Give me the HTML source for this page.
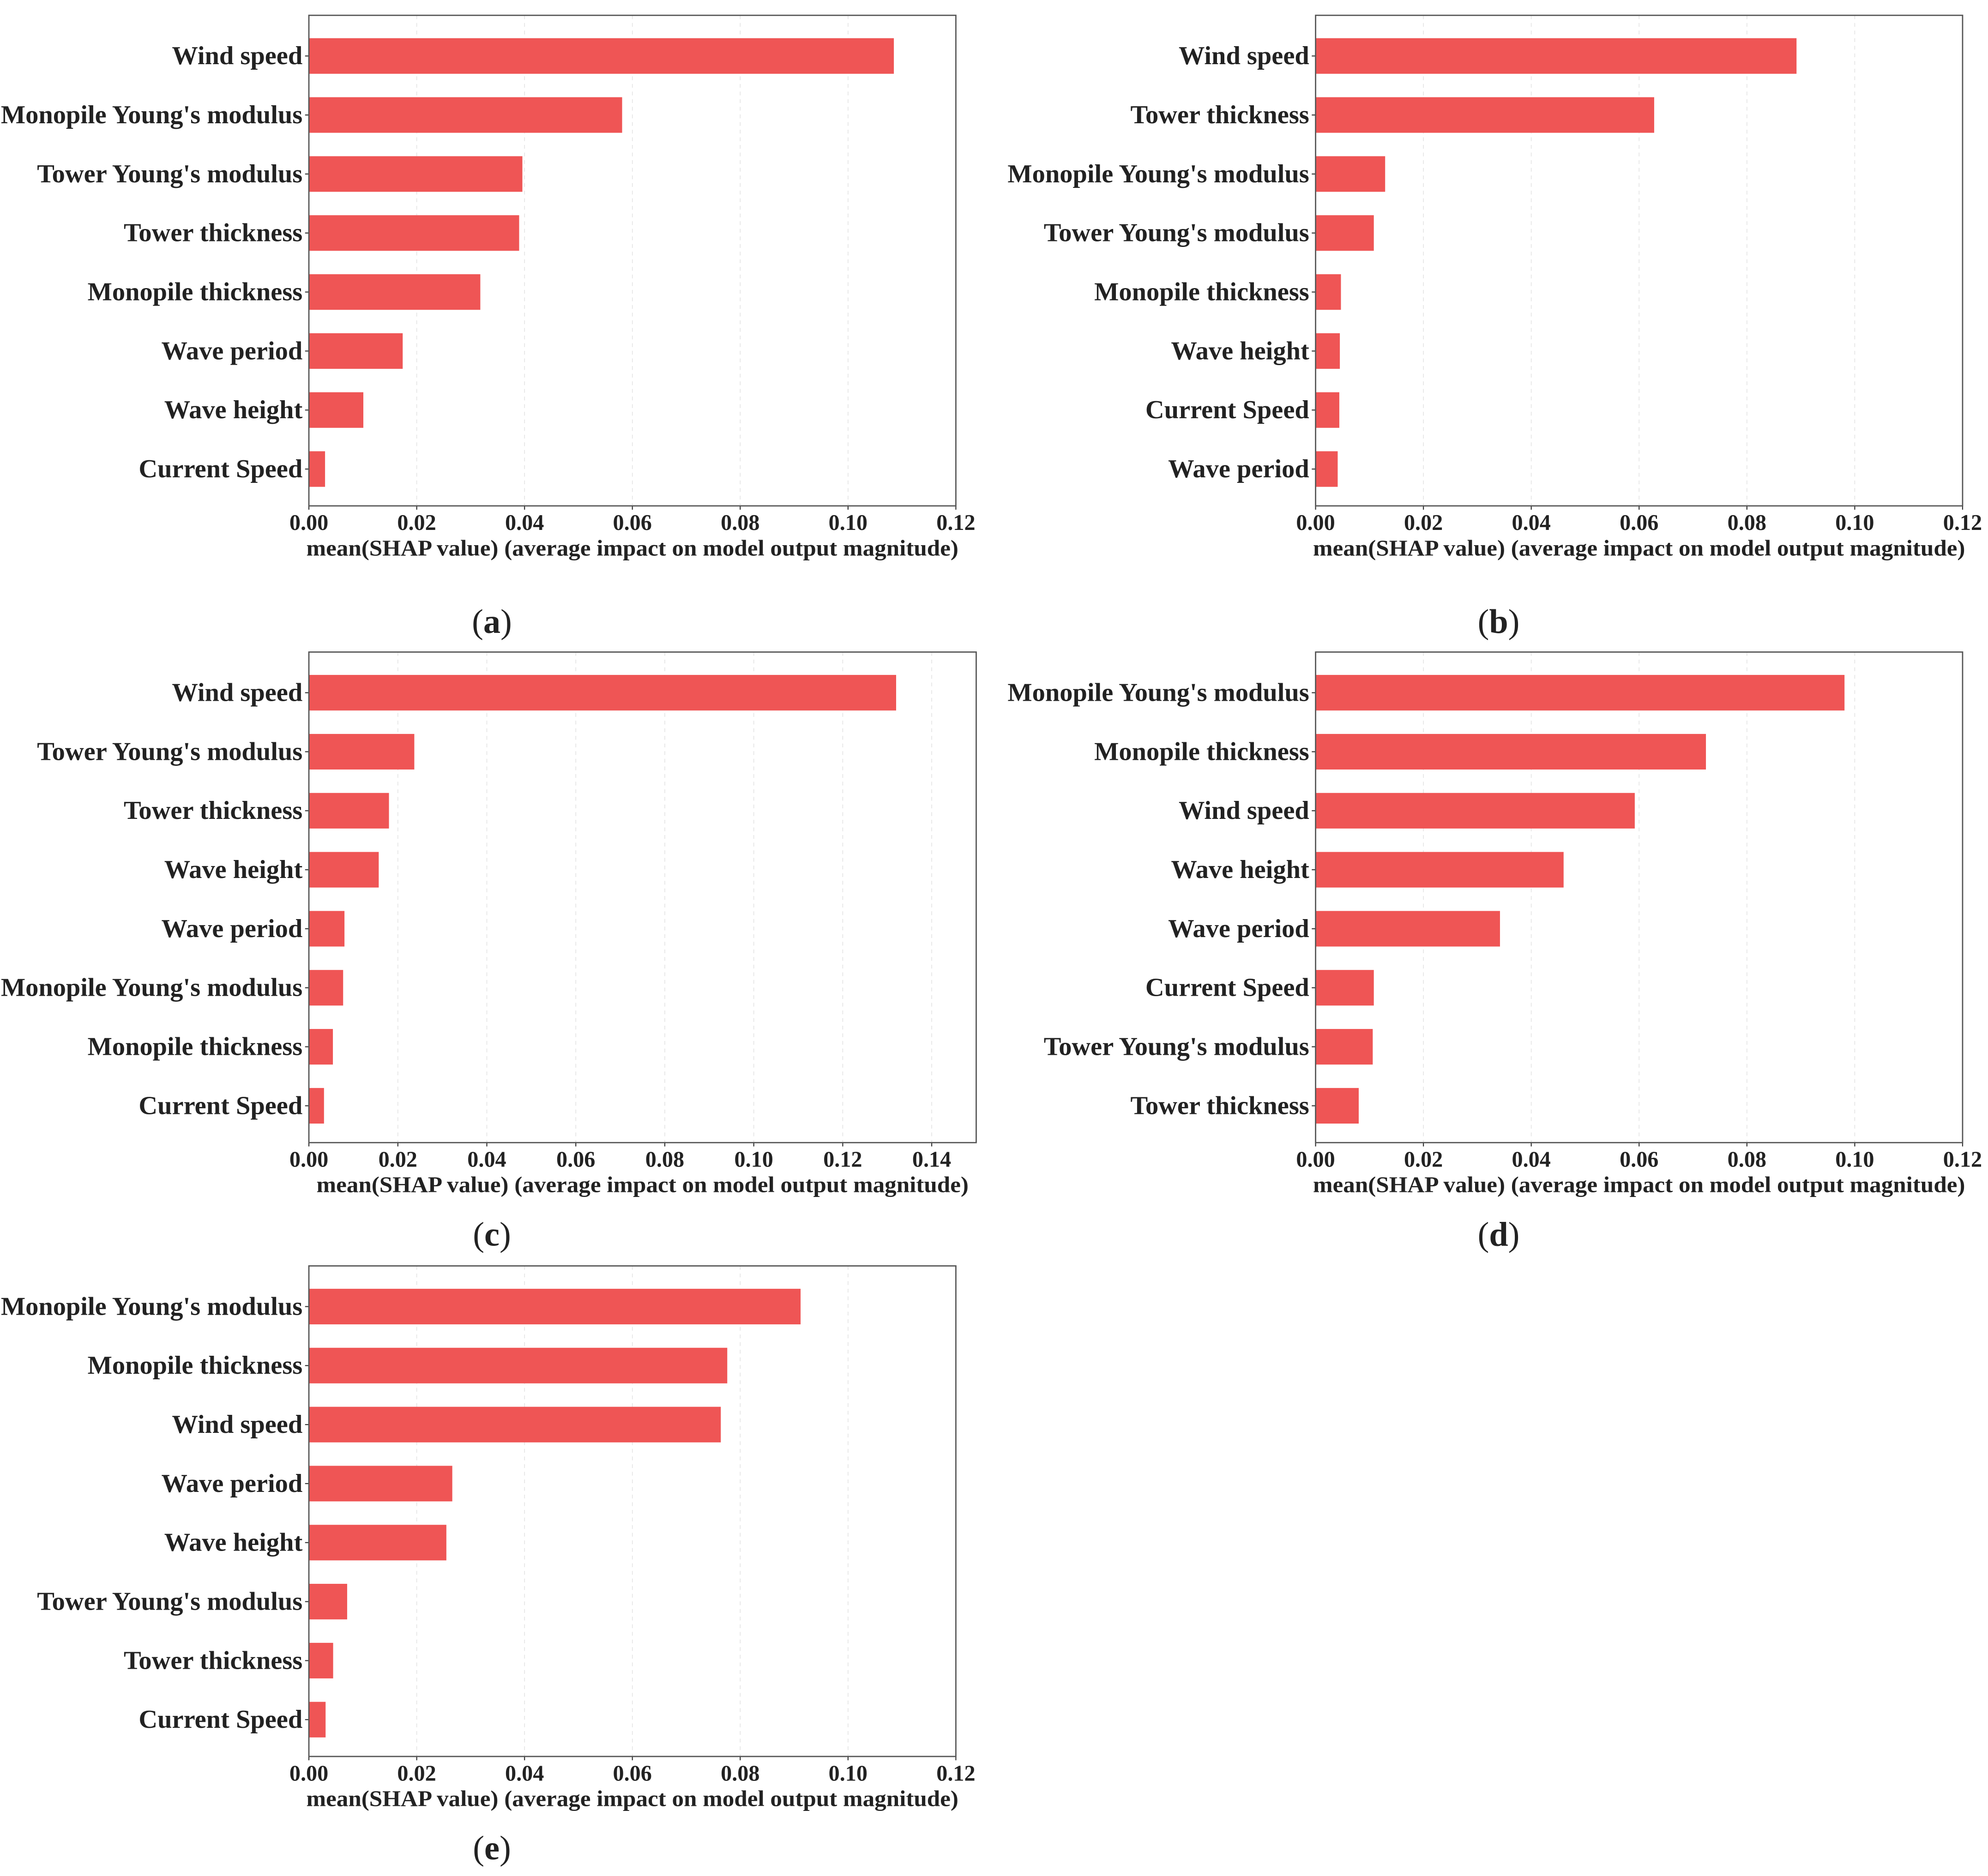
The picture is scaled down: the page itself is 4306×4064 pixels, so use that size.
<!DOCTYPE html>
<html><head><meta charset="utf-8"><style>
html,body{margin:0;padding:0;background:#fff}
svg{display:block}
text{font-family:"Liberation Serif",serif;font-weight:bold;fill:#222}
</style></head><body>
<svg id="fig" xmlns="http://www.w3.org/2000/svg" width="4306" height="4064" viewBox="0 0 1564 1476"></svg>
<script>
const featuresA = ["Wind speed","Monopile Young's modulus","Tower Young's modulus","Tower thickness","Monopile thickness","Wave period","Wave height","Current Speed"];
const valuesA = [0.1085,0.0581,0.0396,0.0390,0.0318,0.0174,0.0101,0.0030];
const featuresB = ["Wind speed","Tower thickness","Monopile Young's modulus","Tower Young's modulus","Monopile thickness","Wave height","Current Speed","Wave period"];
const valuesB = [0.0892,0.0628,0.0129,0.0108,0.0047,0.0045,0.0044,0.0041];
const featuresC = ["Wind speed","Tower Young's modulus","Tower thickness","Wave height","Wave period","Monopile Young's modulus","Monopile thickness","Current Speed"];
const valuesC = [0.1320,0.0237,0.0180,0.0157,0.0080,0.0077,0.0054,0.0034];
const featuresD = ["Monopile Young's modulus","Monopile thickness","Wind speed","Wave height","Wave period","Current Speed","Tower Young's modulus","Tower thickness"];
const valuesD = [0.0981,0.0724,0.0592,0.0460,0.0342,0.0108,0.0106,0.0080];
const featuresE = ["Monopile Young's modulus","Monopile thickness","Wind speed","Wave period","Wave height","Tower Young's modulus","Tower thickness","Current Speed"];
const valuesE = [0.0912,0.0776,0.0764,0.0266,0.0255,0.0071,0.0045,0.0031];
const ticks012 = ["0.00","0.02","0.04","0.06","0.08","0.10","0.12"];
const ticks014 = ["0.00","0.02","0.04","0.06","0.08","0.10","0.12","0.14"];
const NS="http://www.w3.org/2000/svg";
const svg=document.getElementById('fig');
function mk(tag,attrs,parent){const e=document.createElementNS(NS,tag);for(const k in attrs)e.setAttribute(k,attrs[k]);(parent||svg).appendChild(e);return e;}
function panel(id,feats,vals,ticks,xmax,L,R,T,B,lab,lx,ly){
  const g=mk('g',{});
  
  
  const x=v=>L+(v/xmax)*(R-L);
  const step=46.43;
  const y=i=>T+32+step*i;
  ticks.forEach(t=>{
    const v=parseFloat(t),px=x(v);
    const gl=mk('line',{x1:px,x2:px,y1:T,y2:B,stroke:'#e4e4e4','stroke-width':0.6,'stroke-dasharray':'3,3'},g);
    
    
    mk('line',{x1:px,x2:px,y1:B,y2:B+3,stroke:'#333','stroke-width':0.8},g);
    const tl=mk('text',{x:px,y:B+19,'text-anchor':'middle','font-size':17.5},g);
    tl.textContent=t;
    
    
  });
  feats.forEach((f,i)=>{
    const b=mk('rect',{x:L,y:y(i)-14,width:x(vals[i])-L,height:28,fill:'#ef5555'},g);
    
    
    mk('line',{x1:L-3,x2:L,y1:y(i),y2:y(i),stroke:'#333','stroke-width':0.8},g);
    const t=mk('text',{x:L-5,y:y(i)+6.5,'text-anchor':'end','font-size':20.5},g);
    t.textContent=f;
    
    
  });
  const fr=mk('rect',{x:L,y:T,width:R-L,height:B-T,fill:'none',stroke:'#555','stroke-width':1},g);
  
  
  const xl=mk('text',{x:(L+R)/2,y:B+39,'text-anchor':'middle','font-size':17.5,textLength:513,lengthAdjust:'spacingAndGlyphs'},g);
  xl.textContent='mean(SHAP value) (average impact on model output magnitude)';
  
  
  const pl=mk('text',{x:lx,y:ly,'text-anchor':'middle','font-size':27},g);
  pl.setAttribute('style','font-weight:normal');
  pl.innerHTML='(<tspan style="font-weight:bold">'+lab+'</tspan>)';
  
  
}
panel('a',featuresA,valuesA,ticks012,0.12,243,752,12,398,'a',387,498);
panel('b',featuresB,valuesB,ticks012,0.12,1035,1544,12,398,'b',1179,498);
panel('c',featuresC,valuesC,ticks014,0.15,243,768,513,899,'c',387,980);
panel('d',featuresD,valuesD,ticks012,0.12,1035,1544,513,899,'d',1179,980);
panel('e',featuresE,valuesE,ticks012,0.12,243,752,996,1382,'e',387,1463);
</script>
</body></html>
